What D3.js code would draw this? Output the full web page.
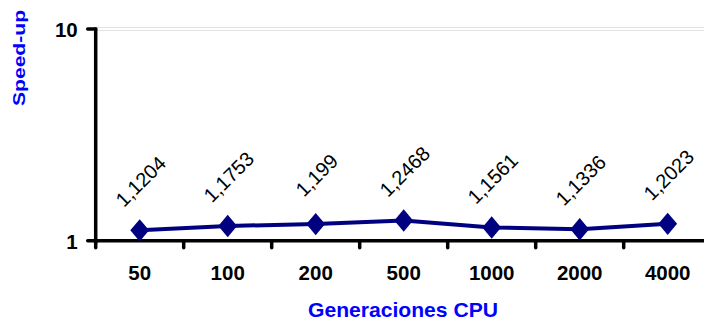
<!DOCTYPE html>
<html><head><meta charset="utf-8">
<script src="https://cdn.jsdelivr.net/npm/d3@7"></script>
<style>body{margin:0;background:#fff}svg{display:block}</style>
</head><body>
<svg id="c" width="704" height="320"></svg>
<script>
const categories = ["50","100","200","500","1000","2000","4000"];
const speedup = [1.1204, 1.1753, 1.199, 1.2468, 1.1561, 1.1336, 1.2023];
const valueLabels = ["1,1204","1,1753","1,199","1,2468","1,1561","1,1336","1,2023"];
const yTicks = [1, 10];
const xTitle = "Generaciones CPU";
const yTitle = "Speed-up";

const FONT = "Arial, 'Liberation Sans', sans-serif";
const svg = d3.select("#c");
const x0 = 95.7, step = 88;
const x = d3.scaleBand().domain(categories).range([x0, x0 + step * categories.length]).paddingInner(0).paddingOuter(0);
const y = d3.scaleLog().domain([1, 10]).range([240.8, 29]);

// gridline at top
[-1.5, 1.5].forEach(o => {
  svg.append("line").attr("x1", x0).attr("x2", 704)
    .attr("y1", y(10) + o).attr("y2", y(10) + o)
    .attr("stroke", "#e3e3e3").attr("stroke-width", 1);
});

// x axis
const xAxis = d3.axisBottom(x).tickSize(0).tickPadding(0).tickFormat(d => d);
const gx = svg.append("g").attr("transform", `translate(0,${y(1)})`).call(xAxis);
gx.select(".domain").remove();
gx.selectAll("text").attr("dy", null).attr("y", 39.5)
  .style("font-family", FONT)
  .style("font-size", "20.5px").style("font-weight", "bold").attr("fill", "#000");
const bounds = categories.map(c => x(c));
svg.append("g").selectAll("line").data(bounds).join("line")
  .attr("x1", d => d).attr("x2", d => d)
  .attr("y1", y(1)).attr("y2", y(1) + 7)
  .attr("stroke", "#000").attr("stroke-width", 3.5).attr("stroke-linecap", "round");
svg.append("line").attr("x1", x0).attr("x2", 710).attr("y1", y(1)).attr("y2", y(1))
  .attr("stroke", "#000").attr("stroke-width", 3.5).attr("stroke-linecap", "round");

// y axis
const yAxis = d3.axisLeft(y).tickValues(yTicks).tickSize(0).tickPadding(0).tickFormat(d3.format("d"));
const gy = svg.append("g").attr("transform", `translate(${x0},0)`).call(yAxis);
gy.select(".domain").remove();
gy.selectAll("text").attr("x", -18).attr("dy", "0.36em")
  .style("font-family", FONT)
  .style("font-size", "20.5px").style("font-weight", "bold").attr("fill", "#000");
svg.append("g").selectAll("line").data(yTicks).join("line")
  .attr("x1", x0 - 8).attr("x2", x0).attr("y1", d => y(d)).attr("y2", d => y(d))
  .attr("stroke", "#000").attr("stroke-width", 3.5).attr("stroke-linecap", "round");
svg.append("line").attr("x1", x0).attr("x2", x0).attr("y1", y(10)).attr("y2", y(1) + 2)
  .attr("stroke", "#000").attr("stroke-width", 3.5).attr("stroke-linecap", "round");

// line
const cx = d => x(d) + x.bandwidth() / 2;
const line = d3.line().x((d, i) => cx(categories[i])).y(d => y(d));
svg.append("path").datum(speedup).attr("d", line)
  .attr("fill", "none").attr("stroke", "#000080").attr("stroke-width", 4).attr("stroke-linejoin", "round");

// diamonds
const sym = d3.symbol().type(d3.symbolDiamond).size(145);
svg.append("g").selectAll("path").data(speedup).join("path")
  .attr("transform", (d, i) => `translate(${cx(categories[i])},${y(d)}) scale(1.45,1)`)
  .attr("d", sym).attr("fill", "#000080");

// value labels
svg.append("g").selectAll("text").data(speedup).join("text")
  .attr("transform", (d, i) => `translate(${cx(categories[i]) + 1},${y(d) - 49}) rotate(-45)`)
  .attr("text-anchor", "middle").attr("dy", "0.35em")
  .style("font-family", FONT)
  .style("font-size", "20px").attr("fill", "#000")
  .text((d, i) => valueLabels[i]);

// titles
svg.append("text").attr("x", 403).attr("y", 317).attr("text-anchor", "middle")
  .style("font-family", FONT)
  .style("font-size", "21px").style("font-weight", "bold").attr("fill", "#0000ff")
  .attr("textLength", 190).attr("lengthAdjust", "spacingAndGlyphs")
  .text(xTitle);
svg.append("text").attr("transform", "translate(24.5,58) rotate(-90)").attr("text-anchor", "middle")
  .style("font-family", FONT)
  .style("font-size", "16px").style("font-weight", "bold").attr("fill", "#0000ff")
  .attr("textLength", 96).attr("lengthAdjust", "spacingAndGlyphs")
  .text(yTitle);
</script>
</body></html>
